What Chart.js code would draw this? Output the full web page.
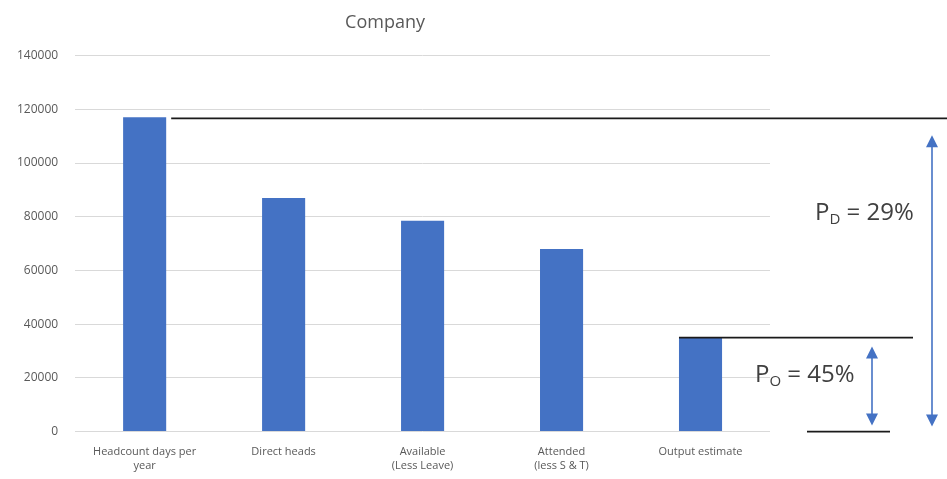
<!doctype html>
<html lang="en">
<head>
  <meta charset="UTF-8">
  <title>Company</title>
  <script src="https://cdn.jsdelivr.net/npm/chart.js@4.4.0/dist/chart.umd.min.js"></script>
  <style>
    html, body { margin: 0; padding: 0; background: #fff; }
    #wrap { width: 947px; height: 479px; position: relative; }
  </style>
</head>
<body>
<div id="wrap">
  <canvas id="companyChart"></canvas>
</div>
<script>
  // data
  const categories = [
    ['Headcount days per', 'year'],
    'Direct heads',
    ['Available', '(Less Leave)'],
    ['Attended', '(less S & T)'],
    'Output estimate'
  ];
  const days = [117000, 87000, 78500, 68000, 35000];
  const yTicks = [0, 20000, 40000, 60000, 80000, 100000, 120000, 140000];
  const pdLabel = ['P', 'D', ' = 29%'];
  const poLabel = ['P', 'O', ' = 45%'];

  const barBlue = '#4472C4';
  const inkGrey = '#404040';

  function arrow(ctx, x, y1, y2) {
    ctx.save();
    ctx.strokeStyle = barBlue;
    ctx.fillStyle = barBlue;
    ctx.lineWidth = 1.6;
    ctx.beginPath();
    ctx.moveTo(x, y1 + 10);
    ctx.lineTo(x, y2 - 10);
    ctx.stroke();
    ctx.beginPath();
    ctx.moveTo(x, y1);
    ctx.lineTo(x - 6, y1 + 12);
    ctx.lineTo(x + 6, y1 + 12);
    ctx.closePath();
    ctx.fill();
    ctx.beginPath();
    ctx.moveTo(x, y2);
    ctx.lineTo(x - 6, y2 - 12);
    ctx.lineTo(x + 6, y2 - 12);
    ctx.closePath();
    ctx.fill();
    ctx.restore();
  }

  function subText(ctx, parts, x, y) {
    ctx.save();
    ctx.fillStyle = inkGrey;
    ctx.textBaseline = 'alphabetic';
    ctx.font = '24px "Open Sans", sans-serif';
    ctx.fillText(parts[0], x, y);
    x += ctx.measureText(parts[0]).width;
    ctx.font = '15px "Open Sans", sans-serif';
    ctx.fillText(parts[1], x, y + 4);
    x += ctx.measureText(parts[1]).width;
    ctx.font = '24px "Open Sans", sans-serif';
    ctx.fillText(parts[2], x, y);
    ctx.restore();
  }

  // lines, arrows and percentages drawn beside the bars
  const markup = {
    id: 'markup',
    afterDraw(chart) {
      const ctx = chart.ctx;
      const y = chart.scales.y;
      const meta = chart.getDatasetMeta(0);
      const area = chart.chartArea;
      const topY = y.getPixelForValue(days[0]);
      const outY = y.getPixelForValue(days[4]);
      const zeroY = y.getPixelForValue(0);
      const b0 = meta.data[0];
      const b4 = meta.data[4];

      ctx.save();
      ctx.strokeStyle = '#1a1a1a';
      ctx.lineWidth = 1.8;
      ctx.beginPath();
      ctx.moveTo(b0.x + b0.width / 2 + 5, topY + 1);
      ctx.lineTo(chart.width, topY + 1);
      ctx.moveTo(b4.x - b4.width / 2, outY);
      ctx.lineTo(area.right + 143, outY);
      ctx.moveTo(area.right + 37, zeroY);
      ctx.lineTo(area.right + 120, zeroY);
      ctx.stroke();
      ctx.restore();

      arrow(ctx, area.right + 162, topY + 18, zeroY - 5);
      arrow(ctx, area.right + 102, outY + 9, zeroY - 6);

      subText(ctx, pdLabel, area.right + 45, topY + 103);
      subText(ctx, poLabel, area.right - 15, outY + 44);
    }
  };

  new Chart(document.getElementById('companyChart'), {
    type: 'bar',
    data: {
      labels: categories,
      datasets: [{
        data: days,
        backgroundColor: barBlue,
        barPercentage: 0.62,
        categoryPercentage: 0.5
      }]
    },
    options: {
      responsive: true,
      maintainAspectRatio: false,
      animation: false,
      layout: { padding: { left: 0, right: 177, top: 8, bottom: 1 } },
      plugins: {
        legend: { display: false },
        tooltip: { enabled: false },
        title: {
          display: true,
          text: 'Company',
          color: '#595959',
          font: { family: '"Open Sans", sans-serif', size: 18, weight: 'normal' },
          padding: { top: 4, bottom: 22 }
        }
      },
      scales: {
        x: {
          grid: { display: false },
          border: { display: false },
          ticks: {
            color: '#595959',
            font: { family: '"Open Sans", sans-serif', size: 11 },
            maxRotation: 0,
            autoSkip: false,
            padding: 6
          }
        },
        y: {
          min: 0,
          max: 140000,
          afterBuildTicks(axis) {
            axis.ticks = yTicks.map(v => ({ value: v }));
          },
          grid: { color: '#d9d9d9', lineWidth: 1, drawTicks: false },
          border: { display: false },
          ticks: {
            color: '#595959',
            font: { family: '"Open Sans", sans-serif', size: 12 },
            padding: 17,
            callback: v => String(v)
          }
        }
      }
    },
    plugins: [markup]
  });
</script>
</body>
</html>
